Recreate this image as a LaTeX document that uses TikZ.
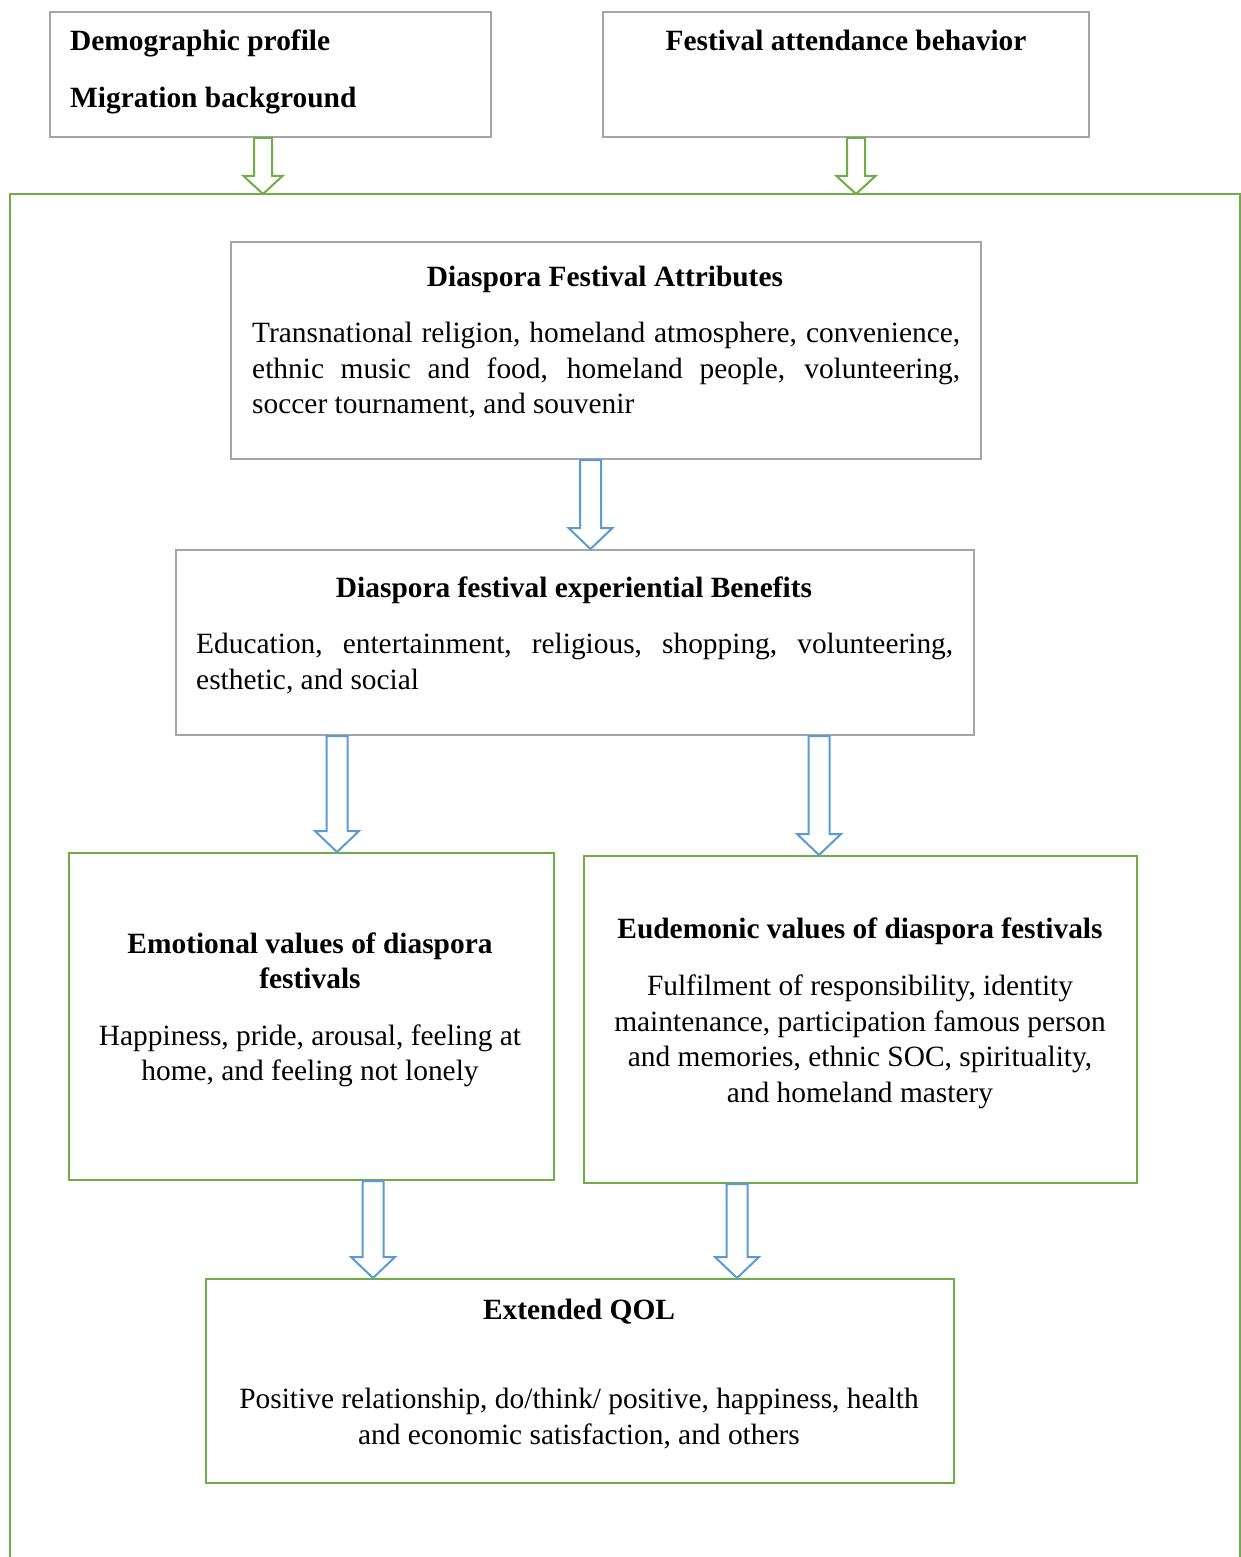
\documentclass[tikz,border=0pt]{standalone}
\usepackage{fontspec}
\setmainfont{Liberation Serif}
\usetikzlibrary{calc}
\definecolor{boxgray}{HTML}{A5A5A5}
\definecolor{boxgreen}{HTML}{70AD47}
\definecolor{arrblue}{HTML}{5B9BD5}
\hyphenpenalty=10000
\exhyphenpenalty=10000
\begin{document}
\begin{tikzpicture}[x=1pt,y=-1pt,
  graybox/.style={draw=boxgray,line width=2pt,inner sep=0pt,anchor=north west},
  greenbox/.style={draw=boxgreen,line width=2pt,inner sep=0pt,anchor=north west},
  txt/.style={inner sep=0pt,font=\fontsize{29.4}{35.5}\selectfont},
  ttl/.style={inner sep=0pt,font=\fontsize{29.4}{35.5}\selectfont\bfseries},
  blockarrow/.style args={#1/#2/#3}{line width=2pt,fill=white,
    to path={let \p1=(\tikztostart), \p2=(\tikztotarget) in
      (\x1-#1,\y1) -- (\x1-#1,\y2+#3) -- (\x1-#2,\y2+#3) -- (\x2,\y2)
      -- (\x1+#2,\y2+#3) -- (\x1+#1,\y2+#3) -- (\x1+#1,\y1) -- cycle}},
  garrow/.style={draw=boxgreen,line width=2.4pt,blockarrow={9pt/19.5pt/18pt}},
  barrow/.style={draw=arrblue,blockarrow={10.5pt/22pt/21pt}}]
\useasboundingbox (0,0) rectangle (1241,1557);

% outer frame, open at the bottom
\draw[boxgreen,line width=2pt] (10,1570) |- (1240,194) -- (1240,1570);
\coordinate (frametop) at (0,194);

% top boxes
\node[graybox,minimum width=441pt,minimum height=125pt] (demo) at (49,11) {};
\node[ttl,anchor=west] (demot1) at (70,43) {Demographic profile};
\node[ttl,anchor=west] (demot2) at (70,100.5) {Migration background};

\node[graybox,minimum width=486pt,minimum height=125pt] (fest) at (602,11) {};
\node[ttl] (festt) at (846,40) {Festival attendance behavior};

% festival attributes
\node[graybox,minimum width=750pt,minimum height=217pt] (attr) at (230,241) {};
\node[ttl] (attrt) at (605,279) {Diaspora Festival Attributes};
\node[txt,text width=708pt,align=justify,anchor=north west] (attrb) at (252,322)
  {Transnational religion, homeland atmosphere, convenience,\linebreak ethnic music and food, homeland people, volunteering,\linebreak soccer tournament, and souvenir};

% experiential benefits
\node[graybox,minimum width=798pt,minimum height=185pt] (bene) at (175,549) {};
\node[ttl] (benet) at (574,590) {Diaspora festival experiential Benefits};
\node[txt,text width=757pt,align=justify,anchor=north west] (beneb) at (196,633)
  {Education, entertainment, religious, shopping, volunteering,\linebreak esthetic, and social};

% emotional values
\node[greenbox,minimum width=485pt,minimum height=327pt] (emo) at (68,852) {};
\node[ttl,align=center] (emot) at (310,961) {Emotional values of diaspora\\festivals};
\node[txt,align=center] (emob) at (310,1056) {Happiness, pride, arousal, feeling at\\home, and feeling not lonely};

% eudemonic values
\node[greenbox,minimum width=553pt,minimum height=327pt] (eud) at (583,855) {};
\node[ttl] (eudt) at (860,931) {Eudemonic values of diaspora festivals};
\node[txt,align=center] (eudb) at (860,1042) {Fulfilment of responsibility, identity\\maintenance, participation famous person\\and memories, ethnic SOC, spirituality,\\and homeland mastery};

% extended QOL
\node[greenbox,minimum width=748pt,minimum height=204pt] (qol) at (205,1278) {};
\node[ttl] (qolt) at (579,1312) {Extended QOL};
\node[txt,align=center] (qolb) at (579,1418.5) {Positive relationship, do/think/ positive, happiness, health\\and economic satisfaction, and others};

% block arrows
\draw[garrow] ([xshift=214pt]demo.south west) to ([xshift=214pt]demo.south west |- frametop);
\draw[garrow] ([xshift=254pt]fest.south west) to ([xshift=254pt]fest.south west |- frametop);
\draw[barrow] ([xshift=360.5pt]attr.south west) to ([xshift=360.5pt]attr.south west |- bene.north);
\draw[barrow] ([xshift=162pt]bene.south west) to ([xshift=162pt]bene.south west |- emo.north);
\draw[barrow] ([xshift=644pt]bene.south west) to ([xshift=644pt]bene.south west |- eud.north);
\draw[barrow] ([xshift=305pt]emo.south west) to ([xshift=305pt]emo.south west |- qol.north);
\draw[barrow] ([xshift=154pt]eud.south west) to ([xshift=154pt]eud.south west |- qol.north);
\end{tikzpicture}
\end{document}
